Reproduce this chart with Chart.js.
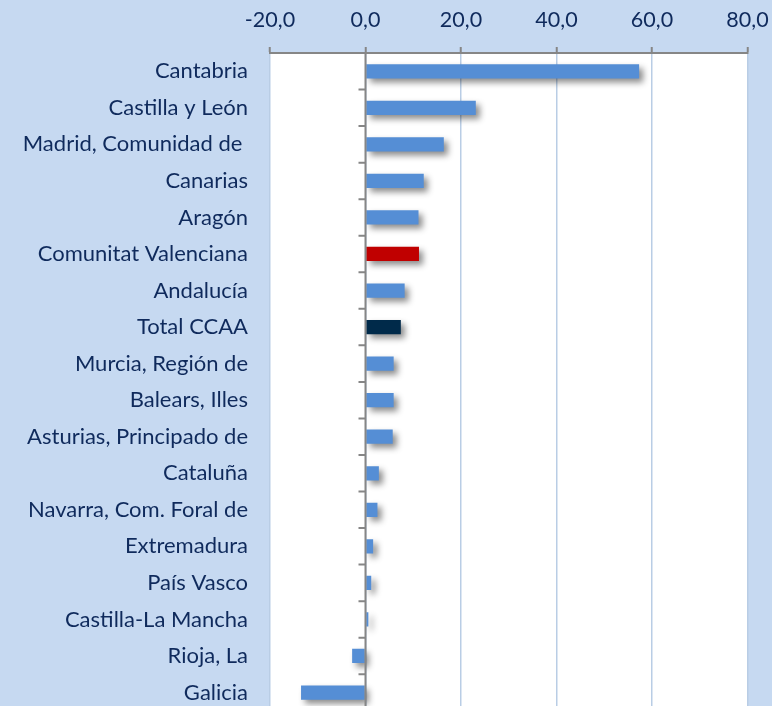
<!DOCTYPE html>
<html>
<head>
<meta charset="utf-8">
<script src="https://cdn.jsdelivr.net/npm/chart.js@4/dist/chart.umd.min.js"></script>
<style>
  html, body { margin: 0; padding: 0; background: #c6d9f1; overflow: hidden; }
  #wrap { width: 772px; height: 746px; }
</style>
</head>
<body>
<div id="wrap"><canvas id="grafico"></canvas></div>
<script>
const comunidades = [
  "Cantabria", "Castilla y León", "Madrid, Comunidad de ", "Canarias", "Aragón",
  "Comunitat Valenciana", "Andalucía", "Total CCAA", "Murcia, Región de",
  "Balears, Illes", "Asturias, Principado de", "Cataluña", "Navarra, Com. Foral de",
  "Extremadura", "País Vasco", "Castilla-La Mancha", "Rioja, La", "Galicia"
];
const variacion = [
  57.3, 23.1, 16.4, 12.2, 11.1, 11.2, 8.2, 7.4, 5.9,
  5.9, 5.7, 2.8, 2.5, 1.6, 1.2, 0.6, -2.8, -13.5
];
const ejeMin = -20;
const ejeMax = 80;
const ejePaso = 20;

function colorBarra(nombre) {
  if (nombre === "Comunitat Valenciana") return "#c00000";
  if (nombre === "Total CCAA") return "#002a4a";
  return "#558ed5";
}

// sombra de las barras, como en el original
const sombraPlugin = {
  id: "sombra",
  beforeDatasetsDraw(chart) {
    const ctx = chart.ctx;
    ctx.save();
    ctx.shadowColor = "rgba(0,0,0,0.45)";
    ctx.shadowBlur = 6;
    ctx.shadowOffsetX = 4;
    ctx.shadowOffsetY = 4;
  },
  afterDatasetsDraw(chart) {
    chart.ctx.restore();
  }
};

// eje vertical en el cero con marcas entre categorias
const ejeCeroPlugin = {
  id: "ejeCero",
  afterDatasetsDraw(chart) {
    const ctx = chart.ctx;
    const x = chart.scales.x.getPixelForValue(0);
    const area = chart.chartArea;
    ctx.save();
    ctx.strokeStyle = "#868686";
    ctx.lineWidth = 2;
    ctx.beginPath();
    ctx.moveTo(x, area.top);
    ctx.lineTo(x, area.bottom);
    const paso = (area.bottom - area.top) / comunidades.length;
    for (let i = 0; i <= comunidades.length; i++) {
      const yy = area.top + paso * i;
      ctx.moveTo(x - 7, yy);
      ctx.lineTo(x, yy);
    }
    ctx.stroke();
    ctx.restore();
  }
};

new Chart(document.getElementById("grafico"), {
  type: "bar",
  data: {
    labels: comunidades,
    datasets: [{
      data: variacion,
      backgroundColor: comunidades.map(colorBarra),
      borderWidth: 0,
      categoryPercentage: 1,
      barPercentage: 0.39
    }]
  },
  options: {
    indexAxis: "y",
    responsive: true,
    maintainAspectRatio: false,
    animation: false,
    layout: { padding: { top: 0, right: 24.5, bottom: 2, left: 0 } },
    plugins: {
      legend: { display: false },
      tooltip: { enabled: false }
    },
    scales: {
      x: {
        position: "top",
        min: ejeMin,
        max: ejeMax,
        ticks: {
          stepSize: ejePaso,
          padding: 14,
          color: "#0f2a5c",
          font: { family: "Lato", size: 21.5 },
          callback: v => Number(v).toFixed(1).replace(".", ",")
        },
        grid: {
          color: "#b9cde5",
          lineWidth: 1.5,
          tickColor: "#868686",
          tickLength: 6,
          tickWidth: 2
        },
        border: { color: "#868686", width: 2 },
        afterFit: s => {
          s.height = 53;
          s.paddingLeft = 0;
          s.paddingRight = 0;
        }
      },
      y: {
        ticks: {
          color: "#0f2a5c",
          padding: 22,
          autoSkip: false,
          font: { family: "Lato", size: 22 }
        },
        grid: { display: false, drawTicks: false },
        border: { display: false },
        afterFit: s => { s.width = 270; }
      }
    }
  },
  plugins: [
    sombraPlugin,
    ejeCeroPlugin,
    {
      id: "fondoArea",
      beforeDraw(chart) {
        const a = chart.chartArea;
        chart.ctx.save();
        chart.ctx.fillStyle = "#ffffff";
        chart.ctx.fillRect(a.left, a.top, a.right - a.left, a.bottom - a.top);
        chart.ctx.restore();
      }
    }
  ]
});
</script>
</body>
</html>
